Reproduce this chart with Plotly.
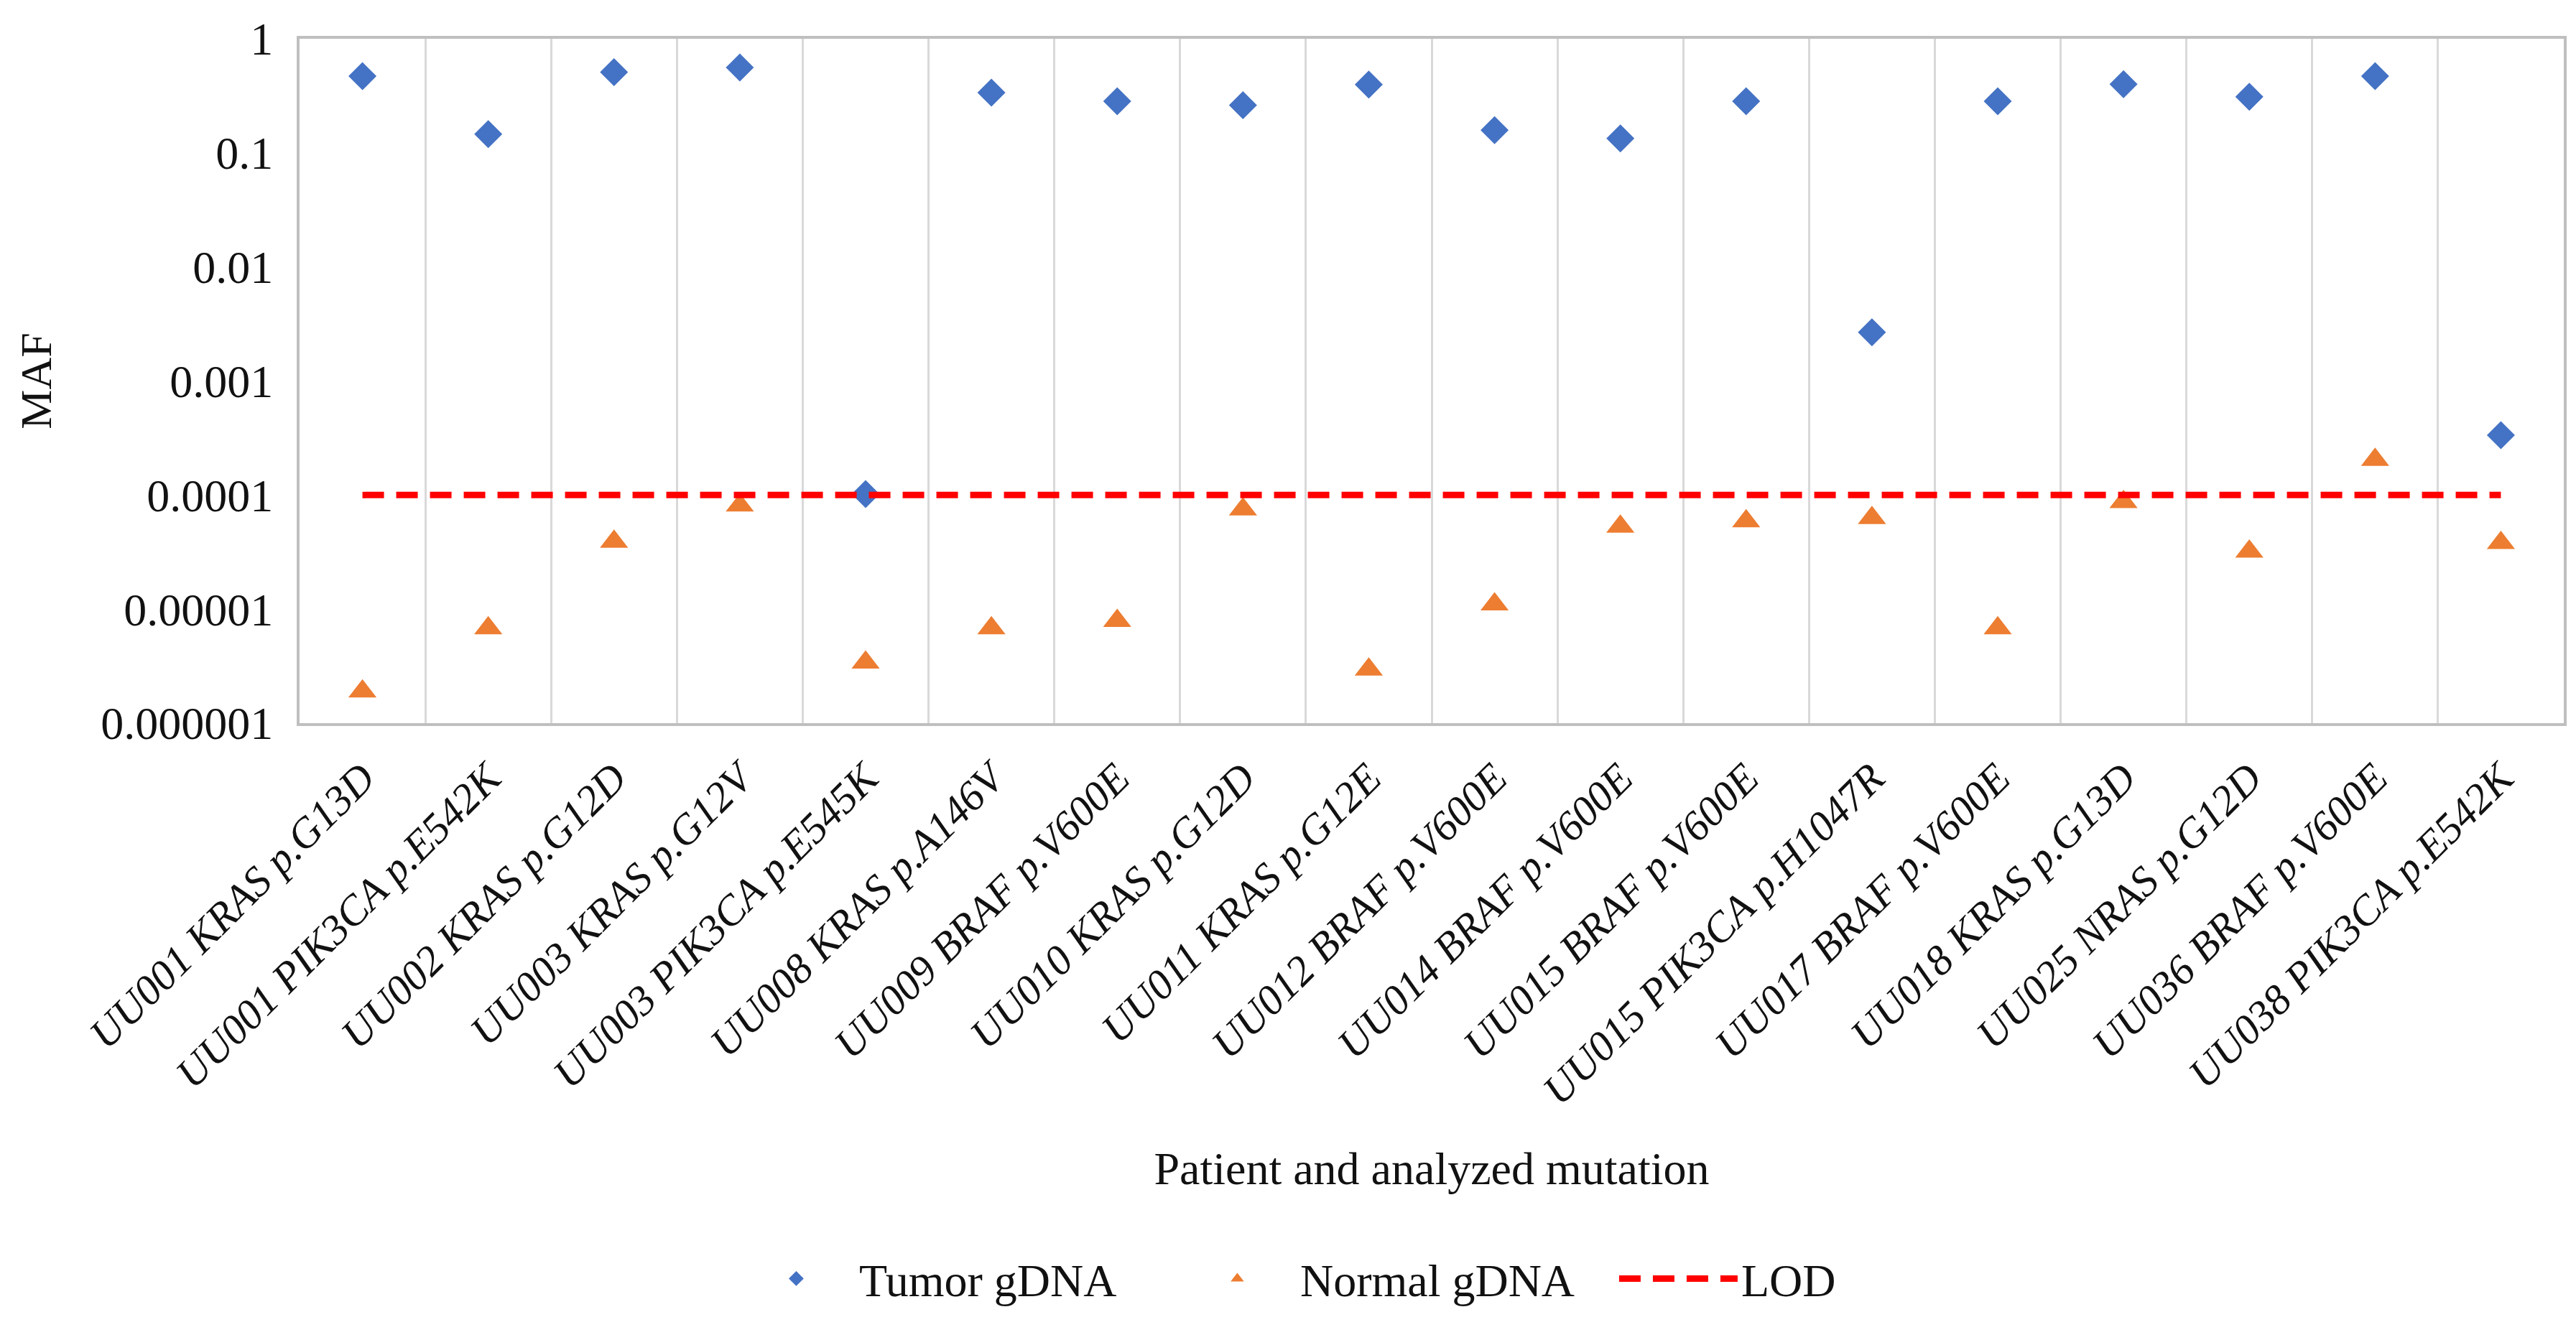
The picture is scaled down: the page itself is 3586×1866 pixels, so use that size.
import plotly.graph_objects as go

categories = [
    "UU001 KRAS p.G13D", "UU001 PIK3CA p.E542K", "UU002 KRAS p.G12D",
    "UU003 KRAS p.G12V", "UU003 PIK3CA p.E545K", "UU008 KRAS p.A146V",
    "UU009 BRAF p.V600E", "UU010 KRAS p.G12D", "UU011 KRAS p.G12E",
    "UU012 BRAF p.V600E", "UU014 BRAF p.V600E", "UU015 BRAF p.V600E",
    "UU015 PIK3CA p.H1047R", "UU017 BRAF p.V600E", "UU018 KRAS p.G13D",
    "UU025 NRAS p.G12D", "UU036 BRAF p.V600E", "UU038 PIK3CA p.E542K",
]

tumor_gdna = [0.47, 0.146, 0.51, 0.56, 0.000102, 0.337, 0.283, 0.262, 0.397,
              0.158, 0.134, 0.283, 0.00267, 0.283, 0.40, 0.31, 0.47, 0.000335]

normal_gdna = [1.9e-6, 6.8e-6, 3.9e-5, 8.1e-5, 3.4e-6, 6.8e-6, 7.9e-6, 7.5e-5,
               2.96e-6, 1.1e-5, 5.3e-5, 5.9e-5, 6.3e-5, 6.8e-6, 8.7e-5, 3.2e-5,
               2.04e-4, 3.8e-5]

lod_value = 0.0001

y_tickvals = [1, 0.1, 0.01, 0.001, 0.0001, 0.00001, 0.000001]
y_ticktext = ["1", "0.1", "0.01", "0.001", "0.0001", "0.00001", "0.000001"]

FONT = "Liberation Serif"
TEXT = "#111111"

fig = go.Figure()

fig.add_trace(go.Scatter(
    x=categories, y=tumor_gdna, mode="markers", name="Tumor gDNA",
    marker=dict(symbol="diamond", size=30, color="#4472C4"),
))
fig.add_trace(go.Scatter(
    x=categories, y=normal_gdna, mode="markers", name="Normal gDNA",
    marker=dict(symbol="triangle-up", size=34, color="#ED7D31"),
))
fig.add_trace(go.Scatter(
    x=[categories[0], categories[-1]], y=[lod_value, lod_value],
    mode="lines", name="LOD",
    line=dict(color="#FF0000", width=9, dash="30px,17px"),
))

fig.update_layout(
    width=3586, height=1866,
    paper_bgcolor="white", plot_bgcolor="white",
    margin=dict(l=409, r=25, t=46, b=867),
    font=dict(family=FONT, size=62, color=TEXT),
    showlegend=True,
    legend=dict(
        orientation="h", x=0.1916, xanchor="left", y=-0.812, yanchor="middle",
        font=dict(family=FONT, size=64, color=TEXT),
        itemwidth=165, entrywidth=434, entrywidthmode="pixels",
        bgcolor="rgba(0,0,0,0)",
    ),
)

fig.update_xaxes(
    type="category", tickson="boundaries", range=[-0.5, len(categories) - 0.5],
    showgrid=True, gridcolor="#D9D9D9", gridwidth=3,
    showline=True, linecolor="#BFBFBF", linewidth=4, mirror=True,
    ticks="", tickangle=-45,
    tickfont=dict(family=FONT, size=59, color=TEXT, style="italic"),
    ticklabelstandoff=14,
    title=dict(text="Patient and analyzed mutation",
               font=dict(family=FONT, size=64, color=TEXT), standoff=55),
    zeroline=False,
)

fig.update_yaxes(
    type="log", range=[-6, 0],
    tickvals=y_tickvals, ticktext=y_ticktext,
    showgrid=False, zeroline=False,
    showline=True, linecolor="#BFBFBF", linewidth=4, mirror=True,
    ticks="", ticklabelstandoff=20,
    tickfont=dict(family=FONT, size=64, color=TEXT),
    title=dict(text="MAF", font=dict(family=FONT, size=62, color=TEXT), standoff=50),
)

fig.write_html("out.html")
